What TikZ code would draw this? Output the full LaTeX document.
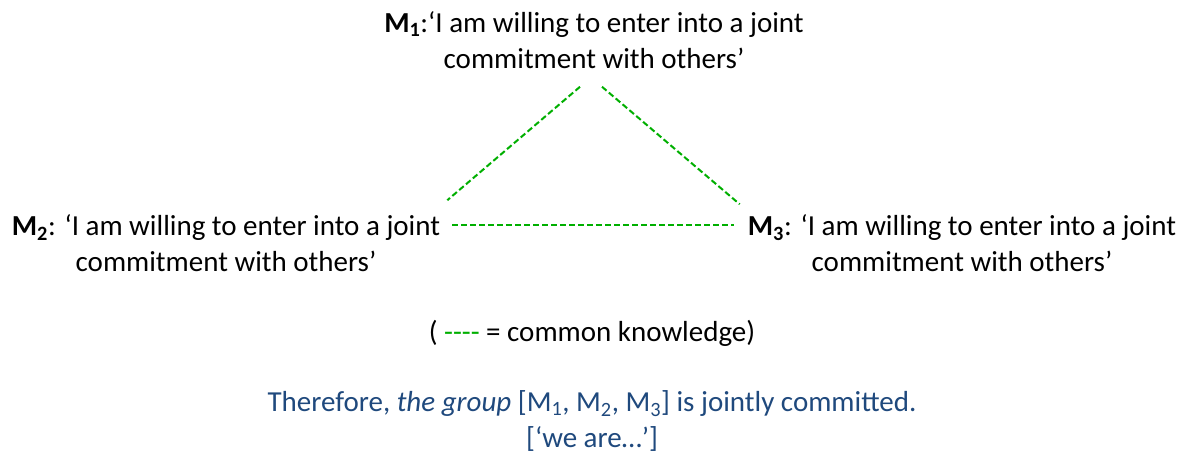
\documentclass[tikz,border=0pt]{standalone}
\usepackage{fontspec}
\setmainfont{Carlito}
\definecolor{kgreen}{RGB}{0,175,0}
\definecolor{tblue}{RGB}{31,73,125}
\begin{document}
\begin{tikzpicture}[x=1pt,y=-1pt,
  know/.style={kgreen,line width=2pt,dash pattern=on 6pt off 3pt},
  claim/.style={align=center,inner sep=0pt,font={\fontsize{29}{36}\selectfont}}]
\useasboundingbox (0,0) rectangle (1184,454);

\node[claim] (m1) at (594,40) {\textbf{M\textsubscript{1}}:‘I am willing to enter into a joint\\ commitment with others’};
\node[claim] (m2) at (226,243) {\textbf{M\textsubscript{2}}: ‘I am willing to enter into a joint\\ commitment with others’};
\node[claim] (m3) at (962,243) {\textbf{M\textsubscript{3}}: ‘I am willing to enter into a joint\\ commitment with others’};

\draw[know] ([shift={(-14,18)}]m1.south) -- ([shift={(7,-14)}]m2.north east);
\draw[know] ([shift={(8,18)}]m1.south) -- ([shift={(-8,-10)}]m3.north west);
\draw[know] ([shift={(12,-18)}]m2.east) -- ([shift={(-14,-18)}]m3.west);

\node[claim] (legend) at (592,333) {( {\color{kgreen}-{}-{}-{}-} = common knowledge)};
\node[claim,text=tblue] (concl) at (592,421) {Therefore, \textit{the group} [M\textsubscript{1}, M\textsubscript{2}, M\textsubscript{3}] is jointly committed.\\{[}‘we are…’{]}};
\end{tikzpicture}
\end{document}
